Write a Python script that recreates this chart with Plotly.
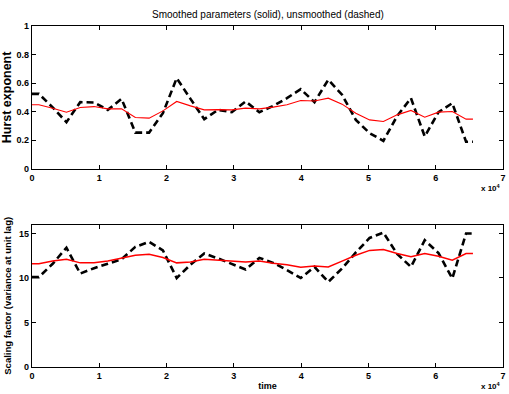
import plotly.graph_objects as go

# window centres (samples), 32 windows of 2048 samples over 65536 samples
n_win = 32
win = 2048
total = 65536
centres = [win // 2 + win * k for k in range(n_win)]

hurst_raw = [0.525, 0.43, 0.327, 0.467, 0.465, 0.413, 0.49, 0.254, 0.254, 0.39,
             0.635, 0.49, 0.348, 0.413, 0.397, 0.472, 0.397, 0.44, 0.495, 0.558,
             0.467, 0.624, 0.519, 0.343, 0.25, 0.196, 0.37, 0.495, 0.227, 0.397,
             0.46, 0.19]
hurst_smooth = [0.449, 0.425, 0.397, 0.43, 0.436, 0.42, 0.42, 0.36, 0.355, 0.406,
                0.472, 0.441, 0.413, 0.415, 0.413, 0.425, 0.42, 0.432, 0.449, 0.479,
                0.475, 0.495, 0.453, 0.39, 0.343, 0.332, 0.378, 0.409, 0.362, 0.397,
                0.402, 0.348]
scale_raw = [10.1, 11.6, 13.4, 10.5, 11.1, 11.6, 12.1, 13.5, 14.06, 13.1,
             10.0, 11.5, 12.75, 12.2, 11.6, 10.95, 12.26, 11.7, 10.9, 10.0,
             11.25, 9.56, 11.07, 12.87, 14.5, 15.1, 12.7, 11.25, 14.25, 12.8,
             9.94, 15.0]
scale_smooth = [11.6, 11.9, 12.1, 11.7, 11.7, 11.9, 12.2, 12.56, 12.68, 12.3,
                11.7, 11.8, 12.1, 12.0, 11.9, 11.8, 11.9, 11.65, 11.5, 11.2,
                11.36, 11.25, 11.9, 12.56, 13.1, 13.2, 12.75, 12.4, 12.75, 12.45,
                12.0, 12.75]


def extend(vals):
    # hold first/last value out to the ends of the record
    return [vals[0]] + list(vals) + [vals[-1]]


x_ext = [0] + centres + [total]

fig = go.Figure()
FONT = "Liberation Sans, Arial, sans-serif"

fig.add_trace(go.Scatter(x=x_ext, y=extend(hurst_raw), mode="lines",
                         line=dict(color="black", width=2.6, dash="7px,4px"),
                         xaxis="x", yaxis="y", showlegend=False))
fig.add_trace(go.Scatter(x=x_ext, y=extend(hurst_smooth), mode="lines",
                         line=dict(color="red", width=1.1),
                         xaxis="x", yaxis="y", showlegend=False))
fig.add_trace(go.Scatter(x=x_ext, y=extend(scale_raw), mode="lines",
                         line=dict(color="black", width=2.6, dash="7px,4px"),
                         xaxis="x2", yaxis="y2", showlegend=False))
fig.add_trace(go.Scatter(x=x_ext, y=extend(scale_smooth), mode="lines",
                         line=dict(color="red", width=1.5),
                         xaxis="x2", yaxis="y2", showlegend=False))

xticks = [0, 10000, 20000, 30000, 40000, 50000, 60000, 70000]
xticktext = ["0", "1", "2", "3", "4", "5", "6", "7"]

axis_common = dict(showline=True, linecolor="black", linewidth=1.3, mirror="ticks",
                   ticks="inside", ticklen=4, tickwidth=1, tickcolor="black",
                   showgrid=False, zeroline=False,
                   tickfont=dict(family=FONT, size=9, color="black", weight="bold"))

fig.update_layout(
    width=509, height=394,
    margin=dict(l=32, r=3, t=26, b=27),
    plot_bgcolor="white", paper_bgcolor="white",
    xaxis=dict(domain=[0, 1], range=[0, 70000], tickvals=xticks, ticktext=xticktext,
               anchor="y", **axis_common),
    yaxis=dict(domain=[0.581, 1], range=[0, 1], tickvals=[0, 0.2, 0.4, 0.6, 0.8, 1],
               ticktext=["0", "0.2", "0.4", "0.6", "0.8", "1"], anchor="x",
               title=dict(text="Hurst exponent", standoff=3,
                          font=dict(family=FONT, size=12.5, color="black", weight="bold")),
               **axis_common),
    xaxis2=dict(domain=[0, 1], range=[0, 70000], tickvals=xticks, ticktext=xticktext,
                anchor="y2",
                title=dict(text="time", standoff=2,
                           font=dict(family=FONT, size=9, color="black", weight="bold")),
                **axis_common),
    yaxis2=dict(domain=[0, 0.4176], range=[0, 16], tickvals=[0, 5, 10, 15],
                anchor="x2",
                title=dict(text="Scaling factor (variance at unit lag)", standoff=5,
                           font=dict(family=FONT, size=9.5, color="black", weight="bold")),
                **axis_common),
    annotations=[
        dict(text="Smoothed parameters (solid), unsmoothed (dashed)", x=0.5, y=1,
             xref="paper", yref="paper", xanchor="center", yanchor="bottom", yshift=4,
             showarrow=False, font=dict(family=FONT, size=10, color="black")),
        dict(text="x 10<sup>4</sup>", x=1, y=0.581, xref="paper", yref="paper",
             xanchor="right", yanchor="top", yshift=-12, showarrow=False,
             font=dict(family=FONT, size=8, color="black", weight="bold")),
        dict(text="x 10<sup>4</sup>", x=1, y=0, xref="paper", yref="paper",
             xanchor="right", yanchor="top", yshift=-12, showarrow=False,
             font=dict(family=FONT, size=8, color="black", weight="bold")),
    ],
)

fig.write_html("out.html")
